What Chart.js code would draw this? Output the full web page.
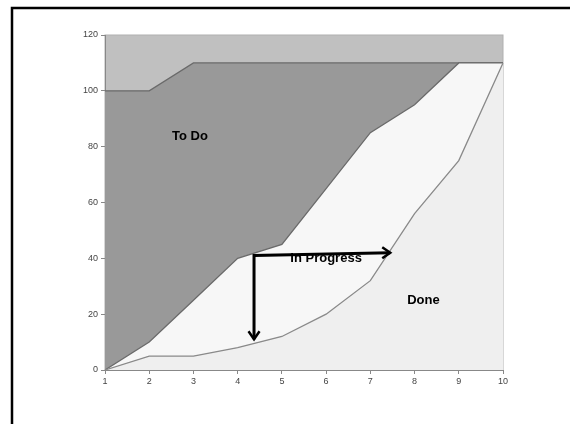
<!DOCTYPE html>
<html>
<head>
<meta charset="utf-8">
<script src="https://cdn.jsdelivr.net/npm/chart.js@4.4.0/dist/chart.umd.min.js"></script>
<style>
	html, body { margin: 0; padding: 0; background: #fff; }
	#wrap { width: 570px; height: 424px; }
</style>
</head>
<body>
<div id="wrap"><canvas id="burnChart" width="570" height="424"></canvas></div>
<script>
// days along the x axis
const days = ["1", "2", "3", "4", "5", "6", "7", "8", "9", "10"];
// total scope (top of To Do)
const scope = [100, 100, 110, 110, 110, 110, 110, 110, 110, 110];
// started = in progress + done
const started = [0, 10, 25, 40, 45, 65, 85, 95, 110, 110];
// done
const done = [0, 5, 5, 8, 12, 20, 32, 56, 75, 110];
const yTicks = [0, 20, 40, 60, 80, 100, 120];

// area labels, placed in data units
const areaLabels = [
	{ text: "To Do", x: 2.92, y: 83.5 },
	{ text: "In Progress", x: 6.0, y: 39.8 },
	{ text: "Done", x: 8.2, y: 25 },
];
// arrow corner, down end and right end (data units)
const arrowPts = { cx: 4.37, cy: 41, downY: 11, rightX: 7.45, rightY: 42 };

const framePlugin = {
	id: "frame",
	beforeDraw(chart) {
		const c = chart.ctx;
		const a = chart.chartArea;
		c.save();
		c.fillStyle = "#fff";
		c.fillRect(0, 0, chart.width, chart.height);
		c.strokeStyle = "#000";
		c.lineWidth = 2.5;
		c.strokeRect(12, 8, 700, 600);
		c.fillStyle = "#c0c0c0";
		c.fillRect(a.left, a.top, a.right - a.left, a.bottom - a.top);
		c.strokeStyle = "#b0b0b0";
		c.lineWidth = 1;
		c.strokeRect(a.left, a.top, a.right - a.left, a.bottom - a.top);
		c.restore();
	},
	afterDatasetsDraw(chart) {
		const c = chart.ctx;
		const xs = chart.scales.x;
		const ys = chart.scales.y;
		const px = v => xs.getPixelForValue(v - 1);
		const py = v => ys.getPixelForValue(v);
		c.save();
		c.fillStyle = "#000";
		c.font = "bold 13px 'Liberation Sans', Arial, sans-serif";
		c.textAlign = "center";
		c.textBaseline = "middle";
		areaLabels.forEach(l => c.fillText(l.text, px(l.x), py(l.y)));

		// arrows
		c.strokeStyle = "#000";
		c.lineWidth = 3;
		c.lineCap = "butt";
		c.lineJoin = "miter";
		const cx = px(arrowPts.cx), cy = py(arrowPts.cy);
		const dy = py(arrowPts.downY);
		const rx = px(arrowPts.rightX), ry = py(arrowPts.rightY);
		c.beginPath();
		c.moveTo(cx, dy);
		c.lineTo(cx, cy);
		c.lineTo(rx, ry);
		c.stroke();
		c.lineWidth = 2.5;
		c.beginPath();
		c.moveTo(cx - 5.5, dy - 8);
		c.lineTo(cx, dy);
		c.lineTo(cx + 5.5, dy - 8);
		c.moveTo(rx - 8, ry - 5.5);
		c.lineTo(rx, ry);
		c.lineTo(rx - 8, ry + 5.5);
		c.stroke();
		c.restore();
	}
};

const ctx = document.getElementById("burnChart").getContext("2d");

const lineStyle = {
	pointRadius: 0,
	pointHoverRadius: 0,
	tension: 0,
	borderWidth: 1.3,
};

new Chart(ctx, {
	type: "line",
	data: {
		labels: days,
		datasets: [{
			label: "Done",
			data: done,
			fill: "origin",
			backgroundColor: "#efefef",
			borderColor: "#8a8a8a",
			...lineStyle,
		}, {
			label: "In Progress",
			data: started,
			fill: "-1",
			backgroundColor: "#f7f7f7",
			borderColor: "#6a6a6a",
			...lineStyle,
		}, {
			label: "To Do",
			data: scope,
			fill: "-1",
			backgroundColor: "#999999",
			borderColor: "#6a6a6a",
			...lineStyle,
		}, ],
	},
	options: {
		responsive: false,
		animation: false,
		layout: { padding: { left: 0, right: 67, top: 35, bottom: 34 } },
		plugins: {
			legend: { display: false },
			tooltip: { enabled: false },
		},
		scales: {
			x: {
				offset: false,
				grid: { drawOnChartArea: false, drawTicks: true, tickLength: 4, color: "#888" },
				border: { display: true, color: "#888", width: 1 },
				ticks: {
					color: "#444",
					font: { size: 9, family: "'Liberation Sans', Arial, sans-serif" },
					padding: 2,
					maxRotation: 0,
				},
				afterFit: s => { s.height = 20; },
			},
			y: {
				min: 0,
				max: 120,
				afterBuildTicks: s => { s.ticks = yTicks.map(v => ({ value: v })); },
				grid: { drawOnChartArea: false, drawTicks: true, tickLength: 4, color: "#888" },
				border: { display: true, color: "#888", width: 1 },
				ticks: {
					color: "#444",
					font: { size: 9, family: "'Liberation Sans', Arial, sans-serif" },
					padding: 3,
				},
				afterFit: s => { s.width = 105; },
			},
		},
	},
	plugins: [framePlugin],
});
</script>
</body>
</html>
